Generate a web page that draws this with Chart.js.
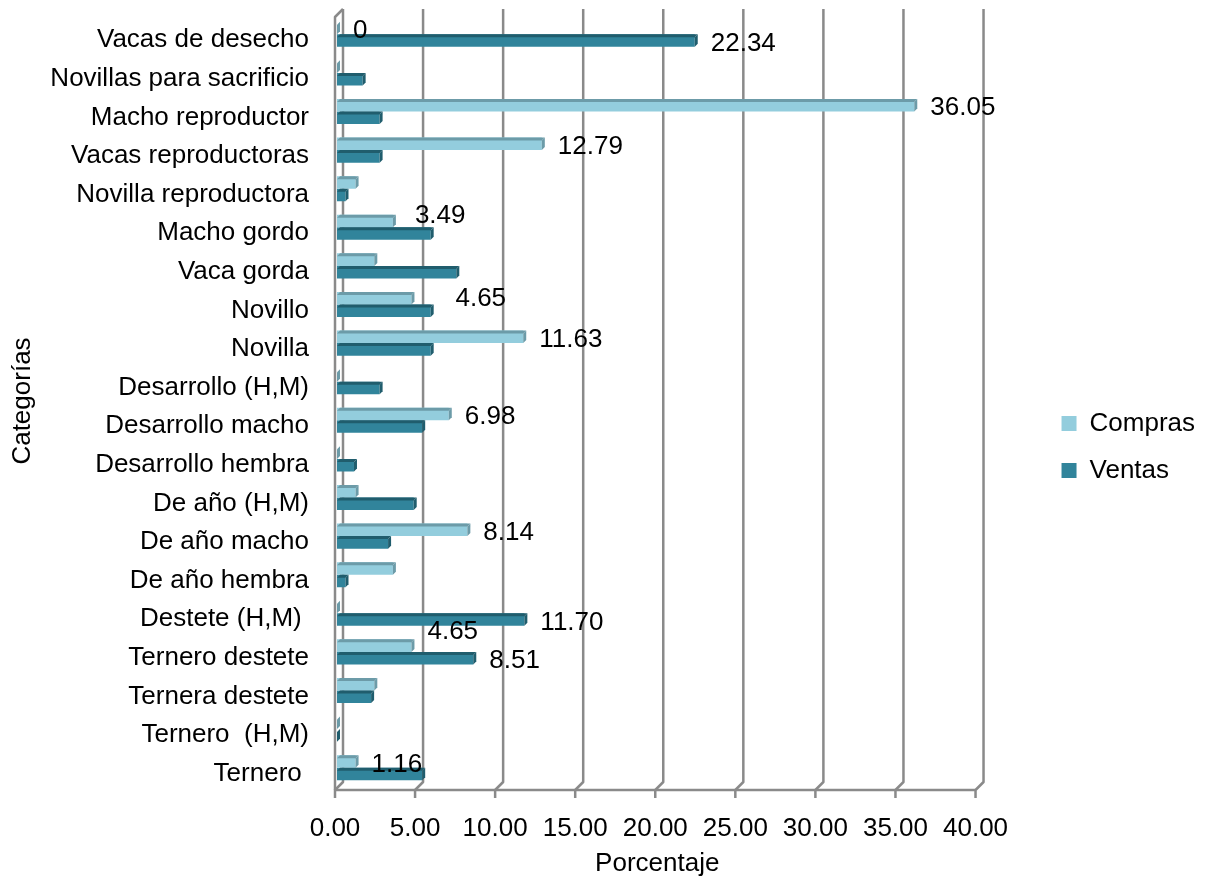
<!DOCTYPE html>
<html>
<head>
<meta charset="utf-8">
<script src="https://cdn.jsdelivr.net/npm/chart.js@4.4.1/dist/chart.umd.min.js"></script>
<style>
  html, body { margin: 0; padding: 0; background: #ffffff; }
  #wrap { width: 1205px; height: 879px; }
</style>
</head>
<body>
<div id="wrap"><canvas id="c" width="1205" height="879"></canvas></div>
<script>
// Categorías de animales (de arriba hacia abajo)
const categories = [
  'Vacas de desecho', 'Novillas para sacrificio', 'Macho reproductor', 'Vacas reproductoras',
  'Novilla reproductora', 'Macho gordo', 'Vaca gorda', 'Novillo', 'Novilla',
  'Desarrollo (H,M)', 'Desarrollo macho', 'Desarrollo hembra', 'De año (H,M)',
  'De año macho', 'De año hembra', 'Destete (H,M) ', 'Ternero destete',
  'Ternera destete', 'Ternero  (H,M)', 'Ternero '
];

// Porcentaje de compras por categoría
const compras = [0, 0, 36.05, 12.79, 1.16, 3.49, 2.33, 4.65, 11.63, 0,
                 6.98, 0, 1.16, 8.14, 3.49, 0, 4.65, 2.33, 0, 1.16];

// Porcentaje de ventas por categoría
const ventas = [22.34, 1.60, 2.66, 2.66, 0.53, 5.85, 7.45, 5.85, 5.85, 2.66,
                5.32, 1.06, 4.79, 3.19, 0.53, 11.70, 8.51, 2.13, 0, 5.32];

// Barras que llevan etiqueta con su valor
const comprasConEtiqueta = [true, false, true, true, false, true, false, true, true, false,
                            true, false, false, true, false, false, true, false, false, true];
const ventasConEtiqueta  = [true, false, false, false, false, false, false, false, false, false,
                            false, false, false, false, false, true, true, false, false, false];

// Marcas del eje de porcentaje
const xTicks = [0, 5, 10, 15, 20, 25, 30, 35, 40];

const FONT = "'Liberation Sans', Arial, Helvetica, sans-serif";
const FS = 26;
Chart.defaults.font.family = FONT;
Chart.defaults.font.size = FS;
Chart.defaults.color = '#000000';

// Paredes y piso en perspectiva, con las líneas de división del fondo
const frame3d = {
  id: 'frame3d',
  beforeDatasetsDraw(chart, args, o) {
    const { ctx, chartArea: ca, scales: { x } } = chart;
    const yTop = ca.top + o.topY;
    const yBack = ca.bottom + o.backY;
    const yFront = ca.bottom + o.frontY;
    ctx.save();
    ctx.strokeStyle = o.color;
    ctx.lineWidth = o.width;
    ctx.lineJoin = 'round';
    ctx.lineCap = 'butt';
    x.ticks.forEach(t => {
      const p = x.getPixelForValue(t.value);
      ctx.beginPath();
      ctx.moveTo(p + o.back, yTop);
      ctx.lineTo(p + o.back, yBack);
      ctx.lineTo(p + o.front, yFront);
      ctx.lineTo(p + o.front, yFront + o.tick);
      ctx.stroke();
    });
    const p0 = x.getPixelForValue(x.min);
    const p1 = x.getPixelForValue(x.max);
    // borde frontal del piso
    ctx.beginPath();
    ctx.moveTo(p0 + o.front, yFront);
    ctx.lineTo(p1 + o.front, yFront);
    ctx.stroke();
    // pared lateral izquierda
    ctx.beginPath();
    ctx.moveTo(p0 + o.front, yFront);
    ctx.lineTo(p0 + o.front, yTop + (yFront - yBack));
    ctx.lineTo(p0 + o.back, yTop);
    ctx.stroke();
    ctx.restore();
  }
};

// Caras superior y lateral de cada barra
const bar3d = {
  id: 'bar3d',
  afterDatasetsDraw(chart, args, o) {
    const ctx = chart.ctx;
    const d = o.depth;
    chart.data.datasets.forEach((ds, di) => {
      const meta = chart.getDatasetMeta(di);
      if (meta.hidden) return;
      ctx.save();
      ctx.fillStyle = o.shade[di];
      meta.data.forEach(el => {
        const { x, y, base, height } = el.getProps(['x', 'y', 'base', 'height'], true);
        const top = y - height / 2;
        const bot = y + height / 2;
        ctx.beginPath();
        ctx.moveTo(base, top + d);
        ctx.lineTo(x, top + d);
        ctx.lineTo(x + d, top);
        ctx.lineTo(base + d, top);
        ctx.closePath();
        ctx.fill();
        ctx.beginPath();
        ctx.moveTo(x, top + d);
        ctx.lineTo(x + d, top);
        ctx.lineTo(x + d, bot - d);
        ctx.lineTo(x, bot);
        ctx.closePath();
        ctx.fill();
      });
      ctx.restore();
    });
  }
};

// Etiquetas de valor junto al extremo de las barras
const valueLabels = {
  id: 'valueLabels',
  afterDatasetsDraw(chart, args, o) {
    const ctx = chart.ctx;
    ctx.save();
    ctx.font = o.font;
    ctx.fillStyle = o.color;
    ctx.textAlign = 'left';
    ctx.textBaseline = 'middle';
    chart.data.datasets.forEach((ds, di) => {
      const meta = chart.getDatasetMeta(di);
      const shown = o.shown[di];
      meta.data.forEach((el, i) => {
        if (!shown[i]) return;
        const v = ds.data[i];
        const txt = v === 0 ? '0' : v.toFixed(2);
        const shift = o.shift[ds.label + ':' + i] || [0, 0];
        ctx.fillText(txt, el.x + o.gap + shift[0], el.y + o.dy + shift[1]);
      });
    });
    ctx.restore();
  }
};

function noEdgePadding(scale) {
  scale.paddingTop = 0;
  scale.paddingBottom = 0;
}

new Chart(document.getElementById('c'), {
  type: 'bar',
  data: {
    labels: categories,
    datasets: [
      { label: 'Compras', data: compras, backgroundColor: '#93cddd', borderWidth: 0,
        categoryPercentage: 0.65, barPercentage: 1.0 },
      { label: 'Ventas', data: ventas, backgroundColor: '#31849b', borderWidth: 0,
        categoryPercentage: 0.65, barPercentage: 1.0 }
    ]
  },
  options: {
    indexAxis: 'y',
    responsive: false,
    animation: false,
    layout: { autoPadding: false, padding: { top: 15, right: 0, bottom: 0, left: 7 } },
    scales: {
      x: {
        type: 'linear',
        min: 0,
        max: 40,
        afterBuildTicks(scale) { scale.ticks = xTicks.map(v => ({ value: v })); },
        grid: { display: false, drawTicks: false },
        border: { display: false },
        ticks: {
          padding: 26,
          labelOffset: -2,
          maxRotation: 0,
          color: '#000000',
          font: { size: FS },
          callback: v => Number(v).toFixed(2)
        },
        title: {
          display: true, text: 'Porcentaje', color: '#000000',
          font: { size: FS }, padding: { top: 0, bottom: 0 }
        },
        afterFit(scale) { scale.height = 92; }
      },
      y: {
        type: 'category',
        grid: { display: false, drawTicks: false },
        border: { display: false },
        ticks: { padding: 28, labelOffset: 6, color: '#000000', font: { size: FS }, autoSkip: false },
        title: {
          display: true, text: 'Categorías', color: '#000000',
          font: { size: FS }, padding: { top: 0, bottom: 0 }
        },
        afterFit(scale) { scale.width = 330; noEdgePadding(scale); }
      },
      yRight: {
        type: 'category',
        position: 'right',
        display: true,
        grid: { display: false, drawTicks: false },
        border: { display: false },
        ticks: { display: false },
        afterFit(scale) { scale.width = 63; noEdgePadding(scale); }
      }
    },
    plugins: {
      legend: {
        position: 'right',
        align: 'center',
        labels: { boxWidth: 15, boxHeight: 15, padding: 21, color: '#000000', font: { size: FS } }
      },
      tooltip: { enabled: false },
      frame3d: { color: '#8a8a8a', width: 2.5, back: 6, front: -2, topY: -6, backY: -5, frontY: 3, tick: 8 },
      bar3d: { depth: 3, shade: ['#6c9ba8', '#205d6d'] },
      valueLabels: {
        font: FS + 'px ' + FONT,
        color: '#000000',
        gap: 16,
        dy: 3,
        shown: [comprasConEtiqueta, ventasConEtiqueta],
        shift: { 'Compras:5': [6, -8], 'Compras:7': [28, -2], 'Compras:16': [0, -17] }
      }
    }
  },
  plugins: [frame3d, bar3d, valueLabels]
});
</script>
</body>
</html>
